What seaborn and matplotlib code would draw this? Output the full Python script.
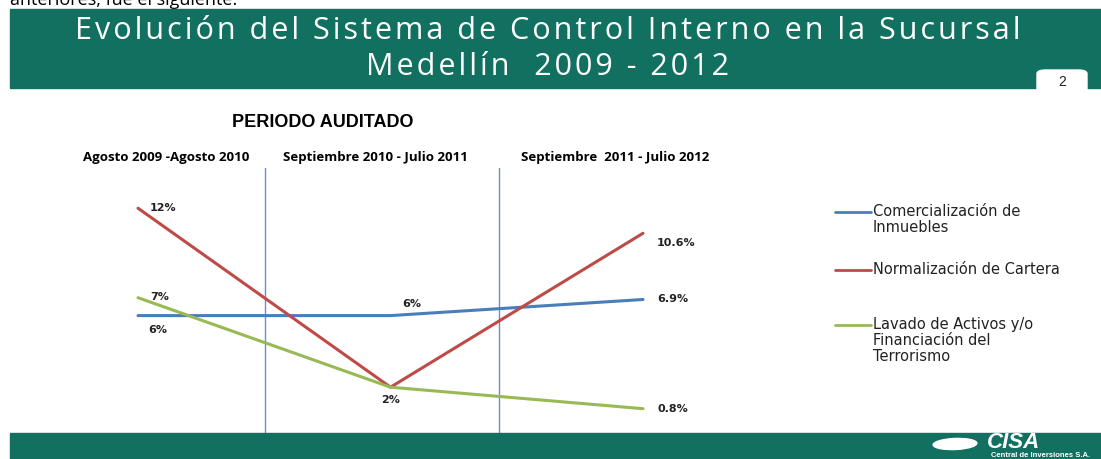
import pandas as pd
import matplotlib.pyplot as plt
import seaborn as sns
from matplotlib.lines import Line2D
from matplotlib.patches import Rectangle, FancyBboxPatch, Ellipse

# data
titulo = ['Evolución del Sistema de Control Interno en la Sucursal', 'Medellín  2009 - 2012']
periodos = ['Agosto 2009 -Agosto 2010', 'Septiembre 2010 - Julio 2011', 'Septiembre  2011 - Julio 2012']
series = ['Comercialización de\nInmuebles', 'Normalización de Cartera',
          'Lavado de Activos y/o\nFinanciación del\nTerrorismo']
comercializacion = [6, 6, 6.9]
normalizacion = [12, 2, 10.6]
lavado = [7, 2, 0.8]
etq_comercializacion = ['6%', '6%', '6.9%']
etq_normalizacion = ['12%', '', '10.6%']
etq_lavado = ['7%', '2%', '0.8%']

colores = ['#4A7EBB', '#BE4B48', '#98B954']
verde = '#11705F'

rows = []
for nombre, vals in zip(series, [comercializacion, normalizacion, lavado]):
    for i, v in enumerate(vals):
        rows.append({'periodo': i, 'valor': v, 'serie': nombre})
df = pd.DataFrame(rows)

sns.set_style('white')
plt.rcParams['font.family'] = ['Open Sans', 'DejaVu Sans']

W, H = 1101, 459
fig = plt.figure(figsize=(W / 100, H / 100), dpi=100)

def fx(px):
    return px / W

def fy(py):
    return 1 - py / H

def espaciado(s):
    # letras algo separadas como en la diapositiva
    return '\u200a'.join(s)

# texto cortado arriba
fig.text(fx(10), fy(5), 'anteriores, fue el siguiente:', ha='left', va='baseline',
         fontsize=13, color='black', family='Open Sans', zorder=0)

# banners
fig.patches.append(Rectangle((fx(10), fy(88)), fx(W - 10), (88 - 9) / H,
                             transform=fig.transFigure, color=verde, zorder=1))
fig.patches.append(Rectangle((fx(10), 0), fx(W - 10), (H - 433) / H,
                             transform=fig.transFigure, color=verde, zorder=1))
fig.patches.append(FancyBboxPatch((fx(1037), fy(95)), fx(50), 25 / H,
                                  boxstyle='round,pad=0,rounding_size=0.008',
                                  transform=fig.transFigure, color='white', zorder=2))
fig.text(fx(1062), fy(82), '2', ha='center', va='center', fontsize=10,
         family='Liberation Sans', color='#222222', zorder=3)

for py, t in zip([39, 75], titulo):
    fig.text(fx(548), fy(py), espaciado(t), ha='center', va='baseline', fontsize=22,
             color='white', family=['Open Sans', 'DejaVu Sans'])

# logo
fig.patches.append(Ellipse((fx(955), fy(444)), fx(44), 11 / H, angle=8,
                           transform=fig.transFigure, color='white', zorder=2))
fig.text(fx(1014), fy(443), 'CISA', ha='center', va='center', fontsize=16,
         weight='bold', style='italic', color='white', family='Liberation Sans')
fig.text(fx(1090), fy(455.5), 'Central de Inversiones S.A.', ha='right', va='center',
         fontsize=5.5, weight='bold', color='white', family='Liberation Sans')

# chart axes: x=0 -> 138px, x=2 -> 643px ; y=0 -> 423px, 17.9 px/unit
ax_l, ax_r, ax_t, ax_b = 40, 760, 100, 433
ax = fig.add_axes([fx(ax_l), fy(ax_b), fx(ax_r - ax_l), (ax_b - ax_t) / H])
ux = (643 - 138) / 2
uy = 17.9
ax.set_xlim(-(138 - ax_l) / ux, 2 + (ax_r - 643) / ux)
ax.set_ylim(-(ax_b - 423) / uy, (423 - ax_t) / uy)

sns.lineplot(data=df, x='periodo', y='valor', hue='serie', palette=colores,
             linewidth=2.2, legend=False, ax=ax, zorder=3)

for xv in [(265 - 138) / ux, (499 - 138) / ux]:
    ax.axvline(xv, ymin=0, ymax=(ax_b - 168) / (ax_b - ax_t), color='#6A8FC8',
               linewidth=1, zorder=2)

ax.set_axis_off()

# etiquetas de datos (desplazamientos en pixeles)
def etiquetas(vals, etqs, offs):
    for i, (v, t) in enumerate(zip(vals, etqs)):
        if not t:
            continue
        dx, dy, ha = offs[i]
        ax.annotate(t, (i, v), xytext=(dx * 0.72, dy * 0.72), textcoords='offset points',
                    ha=ha, va='center', fontsize=8, weight='bold', color='#222222',
                    family='DejaVu Sans')

etiquetas(comercializacion, etq_comercializacion,
          [(20, -14, 'center'), (21, 12, 'center'), (14, 0, 'left')])
etiquetas(normalizacion, etq_normalizacion,
          [(12, 0, 'left'), (0, 0, 'center'), (14, -10, 'left')])
etiquetas(lavado, etq_lavado,
          [(12, 1, 'left'), (0, -13, 'center'), (14, 0, 'left')])

# encabezados
fig.text(fx(323), fy(123), 'PERIODO AUDITADO', ha='center', va='center',
         fontsize=13, weight='bold', family='Liberation Sans', color='black')
for px, t in zip([166, 375, 615], periodos):
    fig.text(fx(px), fy(158), t, ha='center', va='center', fontsize=9.5,
             weight='bold', color='black')

# leyenda
for py, nombre, c in zip([212, 270, 325], series, colores):
    fig.add_artist(Line2D([fx(835), fx(871)], [fy(py), fy(py)], color=c, linewidth=2,
                          transform=fig.transFigure))
    fig.text(fx(873), fy(py - 8), nombre, ha='left', va='top', fontsize=10.5,
             color='#222222', linespacing=1.1, family='DejaVu Sans')

fig.savefig('out.png', dpi=100)
